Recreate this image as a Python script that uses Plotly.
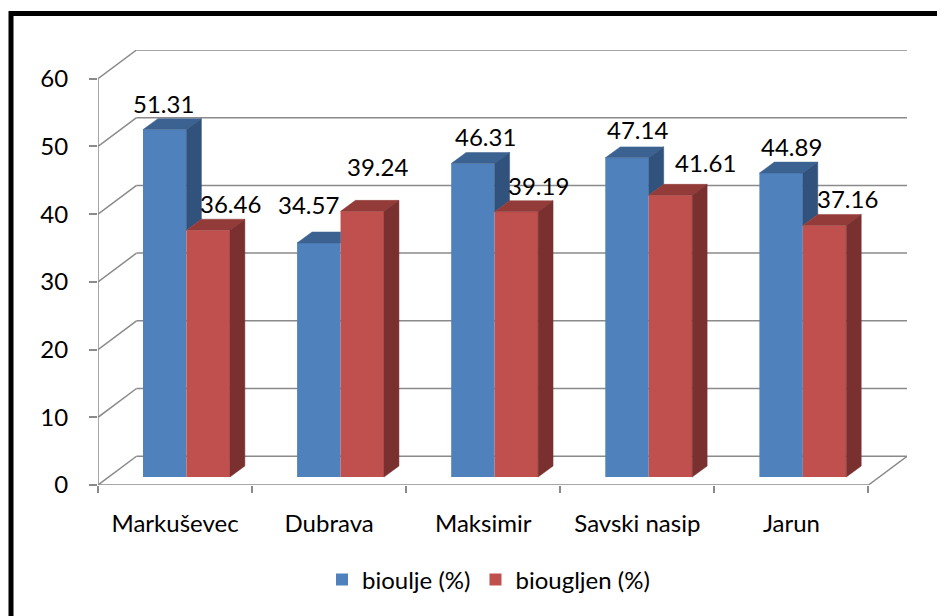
import plotly.graph_objects as go

# ---- data ----
categories = ["Markuševec", "Dubrava", "Maksimir", "Savski nasip", "Jarun"]
bioulje = [51.31, 34.57, 46.31, 47.14, 44.89]
biougljen = [36.46, 39.24, 39.19, 41.61, 37.16]
y_ticks = [0, 10, 20, 30, 40, 50, 60]
series_names = ["bioulje (%)", "biougljen (%)"]

# ---- style / geometry (pseudo 3D) ----
FONT = "Lato"
FS = 24
BLUE, BLUE_TOP, BLUE_SIDE = "#4F81BD", "#3C6291", "#30527C"
RED, RED_TOP, RED_SIDE = "#C0504D", "#933B39", "#7A302F"
GRID = "#8A8A8A"
DX, DY = 0.25, 4.25        # back wall offset (category units, value units)
FX, FY = 0.068, 1.18       # bar front face offset
SX, SY = 0.097, 1.62       # bar depth
W = 0.282                  # bar width
L = 0.224                  # left gap inside category
blue_lbl_dx = [-1, -10, 13, 10, 10]
blue_lbl_dy = [15, 27, 16, 17, 16]
red_lbl_dx = [22, 15, 22, 35, 23]
red_lbl_dy = [16, 34, 15, 22, 16]

n = len(categories)
y_max = max(y_ticks)

fig = go.Figure()

bx0 = [i + L + FX for i in range(n)]
bc = [x + W / 2 for x in bx0]
rc = [x + W for x in bc]

# front faces as bars
fig.add_trace(go.Bar(x=bc, y=bioulje, base=FY, width=W, name=series_names[0],
                     marker=dict(color=BLUE, line=dict(width=0)), hoverinfo="skip"))
fig.add_trace(go.Bar(x=rc, y=biougljen, base=FY, width=W, name=series_names[1],
                     marker=dict(color=RED, line=dict(width=0)), hoverinfo="skip"))


def poly(xs, ys, color):
    fig.add_trace(go.Scatter(x=xs + [xs[0]], y=ys + [ys[0]], mode="lines", fill="toself",
                             fillcolor=color, line=dict(width=0.5, color=color),
                             showlegend=False, hoverinfo="skip"))


for i in range(n):
    x0 = bx0[i]
    x1 = x0 + W
    x2 = x1 + W
    tb = bioulje[i] + FY
    tr = biougljen[i] + FY
    # blue top (clipped by red front where hidden)
    if tr <= tb:
        poly([x0, x1, x1 + SX, x0 + SX], [tb, tb, tb + SY, tb + SY], BLUE_TOP)
    elif tr >= tb + SY:
        poly([x0, x1, x1, x0 + SX], [tb, tb, tb + SY, tb + SY], BLUE_TOP)
    else:
        t = (tr - tb) / SY
        poly([x0, x1, x1, x1 + t * SX, x1 + SX, x0 + SX],
             [tb, tb, tr, tr, tb + SY, tb + SY], BLUE_TOP)
    # blue side (visible part above red bar)
    if tb > tr:
        poly([x1, x1 + SX, x1 + SX, x1], [tr, tr + SY, tb + SY, tb], BLUE_SIDE)
    # red top and side
    poly([x1, x2, x2 + SX, x1 + SX], [tr, tr, tr + SY, tr + SY], RED_TOP)
    poly([x2, x2 + SX, x2 + SX, x2], [FY, FY + SY, tr + SY, tr], RED_SIDE)

# data labels
annotations = []
for i in range(n):
    annotations.append(dict(x=bc[i], y=bioulje[i] + FY + SY, text=f"{bioulje[i]:.2f}",
                            showarrow=False, xshift=blue_lbl_dx[i], yshift=blue_lbl_dy[i],
                            font=dict(family=FONT, size=FS, color="black")))
    annotations.append(dict(x=rc[i], y=biougljen[i] + FY + SY, text=f"{biougljen[i]:.2f}",
                            showarrow=False, xshift=red_lbl_dx[i], yshift=red_lbl_dy[i],
                            font=dict(family=FONT, size=FS, color="black")))

# gridlines / walls as shapes below the traces
shapes = []
for v in y_ticks:
    shapes.append(dict(type="line", x0=0, y0=v, x1=DX, y1=v + DY, xref="x", yref="y",
                       layer="below", line=dict(color=GRID, width=1.5)))
    shapes.append(dict(type="line", x0=DX, y0=v + DY, x1=n + DX, y1=v + DY, xref="x", yref="y",
                       layer="below", line=dict(color=GRID, width=1.5)))
# floor front edge, floor right edge, y axis line
shapes.append(dict(type="line", x0=0, y0=0, x1=n, y1=0, xref="x", yref="y",
                   layer="below", line=dict(color=GRID, width=1.5)))
shapes.append(dict(type="line", x0=n, y0=0, x1=n + DX, y1=DY, xref="x", yref="y",
                   layer="below", line=dict(color=GRID, width=1.5)))
shapes.append(dict(type="line", x0=0, y0=0, x1=0, y1=y_max, xref="x", yref="y",
                   layer="below", line=dict(color=GRID, width=1.5)))

# figure sits at (8, 8) in the page because of the default body margin
FW, FH = 937, 608
ml, mr, mt, mb = 90, 38, 42, 131
pw, ph = FW - ml - mr, FH - mt - mb
shapes.append(dict(type="rect", xref="paper", yref="paper",
                   x0=(3 - ml) / pw, x1=(990 - ml) / pw,
                   y0=(FH - mb - 660) / ph, y1=(FH - mb - 5.5) / ph,
                   line=dict(color="black", width=5), fillcolor="rgba(0,0,0,0)", layer="above"))

fig.update_layout(
    width=FW, height=FH, autosize=False,
    margin=dict(l=ml, r=mr, t=mt, b=mb),
    paper_bgcolor="white", plot_bgcolor="white",
    barmode="overlay",
    font=dict(family=FONT, size=FS, color="black"),
    xaxis=dict(range=[0, n + DX], tickvals=[i + 0.5 for i in range(n)], ticktext=categories,
               ticks="", showgrid=False, zeroline=False, showline=False,
               ticklabelstandoff=22, fixedrange=True,
               minor=dict(tickvals=list(range(n + 1)), ticks="outside", ticklen=7,
                          tickcolor=GRID, tickwidth=1.5, showgrid=False)),
    yaxis=dict(range=[0, y_max + DY], tickvals=y_ticks, ticks="outside", ticklen=8,
               tickcolor=GRID, tickwidth=1.5, showgrid=False, zeroline=False, showline=False,
               ticklabelstandoff=16, fixedrange=True),
    legend=dict(orientation="h", x=(480.5 - ml) / pw, xanchor="center",
                y=(FH - mb - 572) / ph, yanchor="middle",
                font=dict(family=FONT, size=FS), bgcolor="rgba(0,0,0,0)"),
    annotations=annotations,
    shapes=shapes,
)

fig.write_html("out.html")
